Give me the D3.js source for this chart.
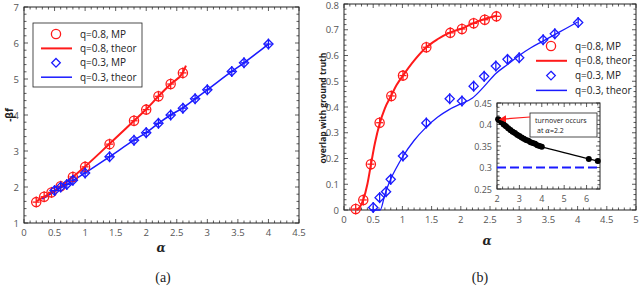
<!DOCTYPE html>
<html>
<head>
<meta charset="utf-8">
<script src="https://cdn.jsdelivr.net/npm/d3@7"></script>
<style>
body{margin:0;background:#fff;}
svg{display:block;font-family:"Open Sans","Noto Sans",sans-serif;}
</style>
</head>
<body>
<svg id="chart" width="640" height="288"></svg>
<script>
// panel (a): -beta f vs alpha
var aRedX = [0.2,0.33,0.45,0.6,0.8,1.0,1.4,1.8,2.0,2.2,2.4,2.6]
var aRedY = [1.58,1.73,1.85,2.02,2.28,2.56,3.19,3.84,4.15,4.52,4.86,5.17]
var aRedTheoX = [0.2,0.33,0.45,0.6,0.8,1.0,1.4,1.8,2.0,2.2,2.4,2.6,2.65]
var aRedTheoY = [1.6,1.73,1.85,2.02,2.28,2.57,3.2,3.84,4.16,4.52,4.86,5.18,5.37]
var aBlueX = [0.5,0.6,0.7,0.8,1.0,1.4,1.8,2.0,2.2,2.4,2.6,2.8,3.0,3.4,3.6,4.0]
var aBlueY = [1.9,2.0,2.07,2.19,2.39,2.84,3.3,3.51,3.77,4.0,4.19,4.45,4.7,5.21,5.45,5.97]
var aBlueTheoX = [0.3,0.5,0.6,0.7,0.8,1.0,1.4,1.8,2.0,2.2,2.4,2.6,2.8,3.0,3.4,3.6,4.0]
var aBlueTheoY = [1.66,1.88,1.98,2.07,2.18,2.39,2.84,3.3,3.51,3.77,4.0,4.2,4.45,4.7,5.21,5.45,5.97]

// panel (b): overlap with ground truth vs alpha
var bRedX = [0.2,0.33,0.46,0.61,0.81,1.01,1.41,1.82,2.02,2.22,2.41,2.61]
var bRedY = [0.004,0.039,0.178,0.339,0.443,0.522,0.632,0.688,0.703,0.725,0.739,0.752]
var bRedTheoX = [0.22,0.28,0.33,0.4,0.46,0.53,0.61,0.7,0.81,0.9,1.01,1.2,1.41,1.6,1.82,2.02,2.22,2.41,2.61]
var bRedTheoY = [0,0.015,0.04,0.1,0.175,0.26,0.335,0.395,0.445,0.485,0.522,0.58,0.632,0.663,0.69,0.705,0.726,0.742,0.754]
var bBlueX = [0.5,0.61,0.72,0.8,1.01,1.41,1.81,2.02,2.22,2.4,2.6,2.8,3.0,3.41,3.61,4.01]
var bBlueY = [0.01,0.048,0.071,0.119,0.21,0.338,0.432,0.423,0.481,0.519,0.559,0.585,0.591,0.661,0.684,0.728]
var bBlueTheoX = [0.45,0.62,0.7,0.8,0.9,1.0,1.2,1.4,1.6,1.8,2.0,2.2,2.4,2.6,2.8,3.0,3.2,3.4,3.6,3.8,4.0]
var bBlueTheoY = [0,0,0.06,0.12,0.165,0.205,0.27,0.32,0.36,0.39,0.412,0.435,0.48,0.53,0.565,0.6,0.63,0.655,0.68,0.705,0.73]

// inset: turnover
var insetX = [2.05,2.1,2.2,2.3,2.4,2.5,2.6,2.7,2.8,2.9,3.0,3.1,3.2,3.3,3.4,3.5,3.6,3.7,3.8,3.9,4.0,6.1,6.5]
var insetY = [0.412,0.41,0.405,0.4,0.396,0.391,0.387,0.383,0.38,0.376,0.373,0.37,0.367,0.364,0.362,0.359,0.357,0.355,0.352,0.35,0.348,0.32,0.315]
var insetBase = 0.3

var legendLabels = ["q=0.8, MP","q=0.8, theor","q=0.3, MP","q=0.3, theor"]
var red = "#ff1a1a", blue = "#1a1aff"
var svg = d3.select("#chart")

function zip(xs, ys){ return xs.map(function(x,i){ return [x, ys[i]] }) }

function frame(g, x, y, xMajor, yMajor, xMinor, yMinor, fmtY, fs){
	var x0 = x.range()[0], x1 = x.range()[1], y0 = y.range()[0], y1 = y.range()[1]
	var t = g.append("g").attr("stroke","#333").attr("stroke-width",0.8)
	xMinor.forEach(function(v){
		var len = xMajor.some(function(m){return Math.abs(m-v)<1e-6}) ? 4 : 2.5
		t.append("line").attr("x1",x(v)).attr("x2",x(v)).attr("y1",y0).attr("y2",y0-len)
		t.append("line").attr("x1",x(v)).attr("x2",x(v)).attr("y1",y1).attr("y2",y1+len)
	})
	yMinor.forEach(function(v){
		var len = yMajor.some(function(m){return Math.abs(m-v)<1e-6}) ? 4 : 2.5
		t.append("line").attr("y1",y(v)).attr("y2",y(v)).attr("x1",x0).attr("x2",x0+len)
		t.append("line").attr("y1",y(v)).attr("y2",y(v)).attr("x1",x1).attr("x2",x1-len)
	})
	g.append("rect").attr("x",x0).attr("y",y1).attr("width",x1-x0).attr("height",y0-y1)
		.attr("fill","none").attr("stroke","#222").attr("stroke-width",1)
	g.selectAll(".xl").data(xMajor).enter().append("text")
		.attr("x",function(d){return x(d)}).attr("y",y0+13).attr("text-anchor","middle")
		.attr("font-size",fs).attr("fill","#555").text(function(d){return d})
	g.selectAll(".yl").data(yMajor).enter().append("text")
		.attr("x",x0-5).attr("y",function(d){return Math.max(y(d)+3.5,9)}).attr("text-anchor","end")
		.attr("font-size",fs).attr("fill","#555").text(fmtY)
}

function circles(g, x, y, pts, color){
	var m = g.append("g").attr("stroke",color).attr("fill","none").attr("stroke-width",1.3)
	pts.forEach(function(p){
		var cx = x(p[0]), cy = y(p[1])
		m.append("line").attr("x1",cx).attr("x2",cx).attr("y1",cy-5.5).attr("y2",cy+5.5)
		m.append("line").attr("x1",cx-3.5).attr("x2",cx+3.5).attr("y1",cy).attr("y2",cy)
		m.append("circle").attr("cx",cx).attr("cy",cy).attr("r",4.6)
	})
}

function diamonds(g, x, y, pts, color, cross){
	var m = g.append("g").attr("stroke",color).attr("fill","none").attr("stroke-width",1.3)
	pts.forEach(function(p){
		var cx = x(p[0]), cy = y(p[1]), r = 4.6
		m.append("line").attr("x1",cx).attr("x2",cx).attr("y1",cy-5.5).attr("y2",cy+5.5)
		if(cross) m.append("line").attr("x1",cx-3.5).attr("x2",cx+3.5).attr("y1",cy).attr("y2",cy)
		m.append("path").attr("d","M"+cx+","+(cy-r)+"L"+(cx+r)+","+cy+"L"+cx+","+(cy+r)+"L"+(cx-r)+","+cy+"Z")
	})
}

function curve(g, x, y, pts, color, w){
	g.append("path").datum(pts).attr("fill","none").attr("stroke",color).attr("stroke-width",w)
		.attr("d",d3.line().x(function(d){return x(d[0])}).y(function(d){return y(d[1])}).curve(d3.curveMonotoneX))
}

function legend(g, lx, ly, dy){
	legendLabels.forEach(function(lab,i){
		var yy = ly + i*dy, col = i<2 ? red : blue
		if(i==0) g.append("circle").attr("cx",lx+15).attr("cy",yy).attr("r",4.6).attr("fill","none").attr("stroke",col).attr("stroke-width",1.3)
		if(i==2) g.append("path").attr("d","M"+(lx+15)+","+(yy-4.3)+"l4.3,4.3l-4.3,4.3l-4.3,-4.3z").attr("fill","none").attr("stroke",col).attr("stroke-width",1.3)
		if(i==1||i==3) g.append("line").attr("x1",lx).attr("x2",lx+31).attr("y1",yy).attr("y2",yy).attr("stroke",col).attr("stroke-width",i==1?2:1.5)
		g.append("text").attr("x",lx+39).attr("y",yy+3.5).attr("font-size",10).attr("fill","#222").text(lab)
	})
}

// ---- panel (a)
var ax = d3.scaleLinear().domain([0,4.5]).range([24,299])
var ay = d3.scaleLinear().domain([1,7]).range([223,7])
var ga = svg.append("g")
frame(ga, ax, ay, d3.range(0,4.51,0.5), d3.range(1,7.01,1), d3.range(0,4.51,0.1), d3.range(1,7.01,0.2), function(d){return d}, 9.5)
curve(ga, ax, ay, zip(aRedTheoX,aRedTheoY), red, 2)
curve(ga, ax, ay, zip(aBlueTheoX,aBlueTheoY), blue, 1.5)
circles(ga, ax, ay, zip(aRedX,aRedY), red)
diamonds(ga, ax, ay, zip(aBlueX,aBlueY), blue, true)
ga.append("rect").attr("x",33).attr("y",23).attr("width",109).attr("height",64).attr("fill","#fff").attr("stroke","#222").attr("stroke-width",0.8)
legend(ga, 41, 34, 14.4)
ga.append("text").attr("transform","translate(13,115) rotate(-90)").attr("text-anchor","middle")
	.attr("font-size",10).attr("font-weight","bold").attr("fill","#222").text("-βf")
ga.append("text").attr("x",161).attr("y",252).attr("text-anchor","middle").attr("font-family","DejaVu Serif,serif")
	.attr("font-style","italic").attr("font-weight","bold").attr("font-size",12).attr("fill","#222").text("α")
ga.append("text").attr("x",163).attr("y",282).attr("text-anchor","middle").attr("font-family","Liberation Serif,serif")
	.attr("font-size",14).attr("fill","#222").text("(a)")

// ---- panel (b)
var bx = d3.scaleLinear().domain([0,5]).range([344,636])
var by = d3.scaleLinear().domain([0,0.8]).range([210,4])
var gb = svg.append("g")
frame(gb, bx, by, d3.range(0,5.01,0.5), d3.range(0,0.801,0.1), d3.range(0,5.01,0.1), d3.range(0,0.801,0.02), function(d){return d==0?"0":d3.format(".1f")(d)}, 9.5)
curve(gb, bx, by, zip(bRedTheoX,bRedTheoY), red, 2)
curve(gb, bx, by, zip(bBlueTheoX,bBlueTheoY), blue, 1.3)
circles(gb, bx, by, zip(bRedX,bRedY), red)
diamonds(gb, bx, by, zip(bBlueX,bBlueY), blue, false)
legend(gb, 536, 46, 14.8)
gb.append("text").attr("transform","translate(326,108) rotate(-90)").attr("text-anchor","middle")
	.attr("font-size",8.5).attr("font-weight","bold").attr("fill","#222").text("overlap with ground truth")
gb.append("text").attr("x",487).attr("y",245).attr("text-anchor","middle").attr("font-family","DejaVu Serif,serif")
	.attr("font-style","italic").attr("font-weight","bold").attr("font-size",12).attr("fill","#222").text("α")
gb.append("text").attr("x",480).attr("y",282).attr("text-anchor","middle").attr("font-family","Liberation Serif,serif")
	.attr("font-size",14).attr("fill","#222").text("(b)")

// ---- inset
var ix = d3.scaleLinear().domain([2,6.6]).range([497,600])
var iy = d3.scaleLinear().domain([0.25,0.45]).range([189,103])
var gi = svg.append("g")
gi.append("rect").attr("x",497).attr("y",103).attr("width",103).attr("height",86).attr("fill","#fff")
frame(gi, ix, iy, [2,3,4,5,6], [0.25,0.3,0.35,0.4,0.45], d3.range(2,6.61,0.25), d3.range(0.25,0.451,0.01), function(d){return d}, 9)
gi.append("line").attr("x1",ix(2)).attr("x2",ix(6.6)).attr("y1",iy(insetBase)).attr("y2",iy(insetBase))
	.attr("stroke",blue).attr("stroke-width",1.8).attr("stroke-dasharray","9,4")
var ipts = zip(insetX,insetY)
curve(gi, ix, iy, ipts.slice(0,21), "#000", 5)
curve(gi, ix, iy, ipts.slice(20), "#000", 1.3)
gi.selectAll(".dot").data(ipts).enter().append("circle")
	.attr("cx",function(d){return ix(d[0])}).attr("cy",function(d){return iy(d[1])}).attr("r",3).attr("fill","#000")
gi.append("rect").attr("x",530).attr("y",113).attr("width",67).attr("height",24).attr("fill","#fff").attr("stroke","#222").attr("stroke-width",0.8)
gi.append("text").attr("x",535).attr("y",123).attr("font-size",7).attr("fill","#222").text("turnover occurs")
var t2 = gi.append("text").attr("x",537).attr("y",133).attr("font-size",7).attr("fill","#222")
t2.append("tspan").text("at ")
t2.append("tspan").attr("font-style","italic").attr("font-family","DejaVu Serif,serif").text("α")
t2.append("tspan").text("=2.2")
svg.append("defs").append("marker").attr("id","arr").attr("viewBox","0 0 10 10").attr("refX",9).attr("refY",5)
	.attr("markerWidth",6).attr("markerHeight",6).attr("orient","auto")
	.append("path").attr("d","M0,0L10,5L0,10z").attr("fill",red)
gi.append("line").attr("x1",530).attr("y1",117).attr("x2",ix(2.12)).attr("y2",iy(0.412))
	.attr("stroke",red).attr("stroke-width",1.2).attr("marker-end","url(#arr)")
</script>
</body>
</html>
